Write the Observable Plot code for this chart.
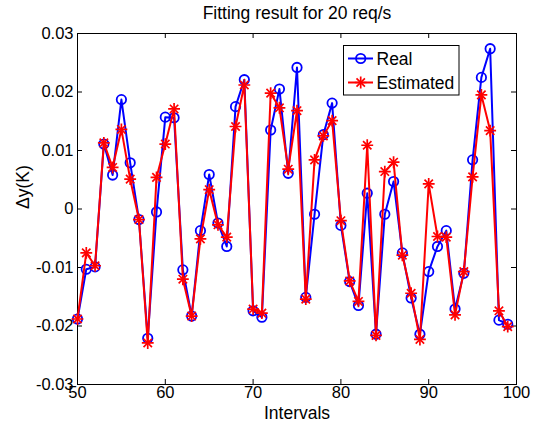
<!DOCTYPE html>
<html>
<head>
<meta charset="utf-8">
<script src="https://cdn.jsdelivr.net/npm/d3@7"></script>
<script src="https://cdn.jsdelivr.net/npm/@observablehq/plot@0.6"></script>
<style>
  html, body { margin: 0; padding: 0; background: white; }
  #chart { position: relative; width: 542px; height: 423px; }
</style>
</head>
<body>
<div id="chart"></div>
<script>
const title = "Fitting result for 20 req/s";
const xLabel = "Intervals";
const yLabel = "Δy(K)";
const seriesNames = ["Real", "Estimated"];
const seriesColors = ["#0000ff", "#ff0000"];

const intervals = [50, 51, 52, 53, 54, 55, 56, 57, 58, 59,
                   60, 61, 62, 63, 64, 65, 66, 67, 68, 69,
                   70, 71, 72, 73, 74, 75, 76, 77, 78, 79,
                   80, 81, 82, 83, 84, 85, 86, 87, 88, 89,
                   90, 91, 92, 93, 94, 95, 96, 97, 98, 99];

const real = [-0.0188, -0.0103, -0.0099, 0.0111, 0.0058, 0.0187, 0.0079, -0.0018, -0.0221, -0.0005,
              0.0157, 0.0156, -0.0104, -0.0183, -0.0037, 0.0059, -0.0024, -0.0064, 0.0175, 0.0221,
              -0.0174, -0.0185, 0.0135, 0.0205, 0.0061, 0.0242, -0.0151, -0.0009, 0.0127, 0.0181,
              -0.0028, -0.0124, -0.0165, 0.0027, -0.0214, -0.0009, 0.0047, -0.0075, -0.0152, -0.0214,
              -0.0107, -0.0064, -0.0037, -0.0171, -0.0110, 0.0084, 0.0225, 0.0274, -0.0190, -0.0197];

const estimated = [-0.0188, -0.0075, -0.0097, 0.0113, 0.0071, 0.0136, 0.0051, -0.0018, -0.0229, 0.0054,
                   0.0111, 0.0171, -0.0120, -0.0183, -0.0051, 0.0033, -0.0027, -0.0048, 0.0141, 0.0212,
                   -0.0171, -0.0178, 0.0198, 0.0173, 0.0068, 0.0168, -0.0154, 0.0084, 0.0125, 0.0151,
                   -0.0020, -0.0123, -0.0158, 0.0109, -0.0216, 0.0064, 0.0080, -0.0079, -0.0144, -0.0223,
                   0.0043, -0.0047, -0.0048, -0.0181, -0.0107, 0.0055, 0.0195, 0.0134, -0.0174, -0.0201];

const xTicks = [50, 60, 70, 80, 90, 100];
const yTicks = [-0.03, -0.02, -0.01, 0, 0.01, 0.02, 0.03];
const yTickLabels = ["-0.03", "-0.02", "-0.01", "0", "0.01", "0.02", "0.03"];

const realData = intervals.map((x, i) => ({x, y: real[i]}));
const estData = intervals.map((x, i) => ({x, y: estimated[i]}));

const W = 542, H = 423;
const mL = 77, mR = 26, mT = 33, mB = 39;
const innerW = W - mL - mR, innerH = H - mT - mB;
const tickLen = 5;
const font = "'Liberation Sans', Arial, Helvetica, sans-serif";
const starR = 3.9;

const svg = Plot.plot({
  width: W, height: H,
  marginLeft: mL, marginRight: mR, marginTop: mT, marginBottom: mB,
  style: {fontFamily: font, fontSize: "16.5px", background: "white", color: "black", overflow: "visible"},
  x: {domain: [50, 100], ticks: xTicks},
  y: {domain: [-0.03, 0.03], ticks: yTicks},
  marks: [
    Plot.frame({stroke: "black", strokeWidth: 1}),
    // inward ticks on all four sides
    Plot.ruleX(xTicks, {x: d => d, insetTop: innerH - tickLen, stroke: "black"}),
    Plot.ruleX(xTicks, {x: d => d, insetBottom: innerH - tickLen, stroke: "black"}),
    Plot.ruleY(yTicks, {y: d => d, insetRight: innerW - tickLen, stroke: "black"}),
    Plot.ruleY(yTicks, {y: d => d, insetLeft: innerW - tickLen, stroke: "black"}),
    Plot.axisX({ticks: xTicks, tickSize: 0, tickPadding: 2, label: null, fontSize: 16.5, tickFormat: d => String(d)}),
    Plot.axisY({ticks: yTicks, tickSize: 0, tickPadding: 4, label: null, fontSize: 16.5,
                tickFormat: d => yTickLabels[yTicks.indexOf(d)]}),
    // Real series
    Plot.line(realData, {x: "x", y: "y", stroke: seriesColors[0], strokeWidth: 2}),
    Plot.dot(realData, {x: "x", y: "y", r: 4.7, stroke: seriesColors[0], strokeWidth: 1.8, fill: "none"}),
    // Estimated series
    Plot.line(estData, {x: "x", y: "y", stroke: seriesColors[1], strokeWidth: 2}),
    Plot.dot(estData, {x: "x", y: "y", symbol: "plus", r: starR, stroke: seriesColors[1], strokeWidth: 1.7}),
    Plot.dot(estData, {x: "x", y: "y", symbol: "times", r: starR, stroke: seriesColors[1], strokeWidth: 1.7}),
    // title and axis labels
    Plot.text([title], {frameAnchor: "top", dy: -14.7, lineAnchor: "bottom", fontSize: 17.5, fill: "black"}),
    Plot.text([xLabel], {frameAnchor: "bottom", dy: 22.5, lineAnchor: "top", fontSize: 17.5, fill: "black"}),
    Plot.text([yLabel], {frameAnchor: "left", dx: -54.5, rotate: -90, lineAnchor: "middle", fontSize: 17.5, fill: "black"})
  ]
});

// Legend box (layout constants in pixels)
const lg = d3.select(svg).append("g").attr("font-family", font).attr("font-size", 17.5).attr("text-anchor", "start");
const box = {x: 343.5, y: 45.5, w: 115.5, h: 49.5};
lg.append("rect").attr("x", box.x).attr("y", box.y).attr("width", box.w).attr("height", box.h)
  .attr("fill", "white").attr("stroke", "black").attr("stroke-width", 1);
const rowY = [58.5, 82.5];
const starSize = Math.PI * starR * starR;
seriesNames.forEach((name, i) => {
  const g = lg.append("g");
  g.append("line").attr("x1", 348).attr("x2", 373).attr("y1", rowY[i]).attr("y2", rowY[i])
    .attr("stroke", seriesColors[i]).attr("stroke-width", 2);
  if (i === 0) {
    g.append("circle").attr("cx", 360.7).attr("cy", rowY[i]).attr("r", 4.7)
      .attr("fill", "none").attr("stroke", seriesColors[i]).attr("stroke-width", 1.8);
  } else {
    [d3.symbolPlus, d3.symbolTimes].forEach(sym => {
      g.append("path").attr("transform", `translate(360.7,${rowY[i]})`)
        .attr("d", d3.symbol(sym, starSize)())
        .attr("fill", "none").attr("stroke", seriesColors[i]).attr("stroke-width", 1.7);
    });
  }
  g.append("text").attr("x", 376.5).attr("y", rowY[i]).attr("dy", "0.35em")
    .attr("text-anchor", "start").attr("fill", "black").text(name);
});

document.getElementById("chart").appendChild(svg);
</script>
</body>
</html>
